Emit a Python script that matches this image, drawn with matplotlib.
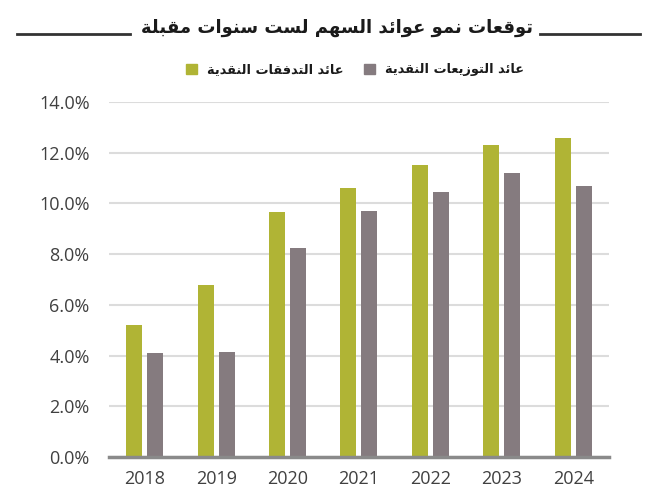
import matplotlib
matplotlib.use("Agg")
import matplotlib.pyplot as plt
from matplotlib.lines import Line2D
from matplotlib.patches import Patch
from matplotlib.ticker import FuncFormatter

years = ["2018", "2019", "2020", "2021", "2022", "2023", "2024"]
cash_flow_yield = [5.2, 6.8, 9.65, 10.6, 11.5, 12.3, 12.6]
dividend_yield = [4.1, 4.15, 8.25, 9.7, 10.45, 11.2, 10.7]

title_txt = "توقعات نمو عوائد السهم لست سنوات مقبلة"
label_cash = "عائد التدفقات النقدية"
label_div = "عائد التوزيعات النقدية"

# presentation forms: isolated, final, initial, medial (right-joining letters have only 2)
FORMS = {
    "ا": (0xFE8D, 0xFE8E), "ة": (0xFE93, 0xFE94), "د": (0xFEA9, 0xFEAA),
    "ز": (0xFEAF, 0xFEB0), "و": (0xFEED, 0xFEEE),
    "ب": (0xFE8F, 0xFE90, 0xFE91, 0xFE92), "ت": (0xFE95, 0xFE96, 0xFE97, 0xFE98),
    "س": (0xFEB1, 0xFEB2, 0xFEB3, 0xFEB4), "ع": (0xFEC9, 0xFECA, 0xFECB, 0xFECC),
    "ف": (0xFED1, 0xFED2, 0xFED3, 0xFED4), "ق": (0xFED5, 0xFED6, 0xFED7, 0xFED8),
    "ل": (0xFEDD, 0xFEDE, 0xFEDF, 0xFEE0), "م": (0xFEE1, 0xFEE2, 0xFEE3, 0xFEE4),
    "ن": (0xFEE5, 0xFEE6, 0xFEE7, 0xFEE8), "ه": (0xFEE9, 0xFEEA, 0xFEEB, 0xFEEC),
    "ي": (0xFEF1, 0xFEF2, 0xFEF3, 0xFEF4), "ئ": (0xFE89, 0xFE8A, 0xFE8B, 0xFE8C),
}


def shape(s):
    out = []
    for i, c in enumerate(s):
        if c not in FORMS:
            out.append(c)
            continue
        prev = s[i - 1] if i > 0 else ""
        nxt = s[i + 1] if i + 1 < len(s) else ""
        joins_prev = prev in FORMS and len(FORMS[prev]) == 4
        joins_next = len(FORMS[c]) == 4 and nxt in FORMS
        f = FORMS[c]
        if joins_prev and joins_next:
            code = f[3]
        elif joins_prev:
            code = f[1]
        elif joins_next:
            code = f[2]
        else:
            code = f[0]
        out.append(chr(code))
    return "".join(out)[::-1]


green = "#b0b435"
grey = "#857b7f"
tick_col = "#404040"

fig = plt.figure(figsize=(6.61, 5.0), dpi=100)
ax = fig.add_axes([109 / 661, 1 - 457 / 500, 500 / 661, 355 / 500])

x = range(len(years))
w = 0.224
off = 0.147
ax.bar([i - off for i in x], cash_flow_yield, width=w, color=green, zorder=3)
ax.bar([i + off for i in x], dividend_yield, width=w, color=grey, zorder=3)

ax.set_xlim(-0.5, len(years) - 0.5)
ax.set_ylim(0, 14)
ax.set_yticks([0, 2, 4, 6, 8, 10, 12, 14])
ax.yaxis.set_major_formatter(FuncFormatter(lambda v, p: "%.1f%%" % v))
ax.set_xticks(list(x))
ax.set_xticklabels(years)
ax.grid(axis="y", color="#dcdcdc", linewidth=1.5, zorder=0)
for sp in ["top", "right", "left"]:
    ax.spines[sp].set_visible(False)
ax.spines["bottom"].set_color("#8a8a8a")
ax.spines["bottom"].set_linewidth(2.5)
ax.spines["bottom"].set_zorder(4)
ax.tick_params(length=0, labelcolor=tick_col, labelsize=13)
ax.tick_params(axis="y", pad=14)
ax.tick_params(axis="x", pad=9)
for t in ax.get_xticklabels() + ax.get_yticklabels():
    t.set_fontfamily("Open Sans")

# title with rules either side
fig.text(337 / 661, 1 - 28 / 500, shape(title_txt), ha="center", va="center",
         fontsize=13, fontweight="bold", color="#1a1a1a", family="DejaVu Sans")
fig.add_artist(Line2D([17 / 661, 130 / 661], [1 - 34 / 500] * 2, color="#333333", lw=2))
fig.add_artist(Line2D([540 / 661, 640 / 661], [1 - 34 / 500] * 2, color="#333333", lw=2))

handles = [Patch(color=green, label=shape(label_cash)),
           Patch(color=grey, label=shape(label_div))]
leg = fig.legend(handles=handles, ncol=2, loc="center", bbox_to_anchor=(355 / 661, 1 - 70 / 500),
                 frameon=False, handlelength=0.85, handleheight=0.85, handletextpad=0.8,
                 columnspacing=1.6, prop={"family": "DejaVu Sans", "weight": "bold", "size": 9.3})
for t in leg.get_texts():
    t.set_color("#1a1a1a")

fig.savefig("out.png", dpi=100)
